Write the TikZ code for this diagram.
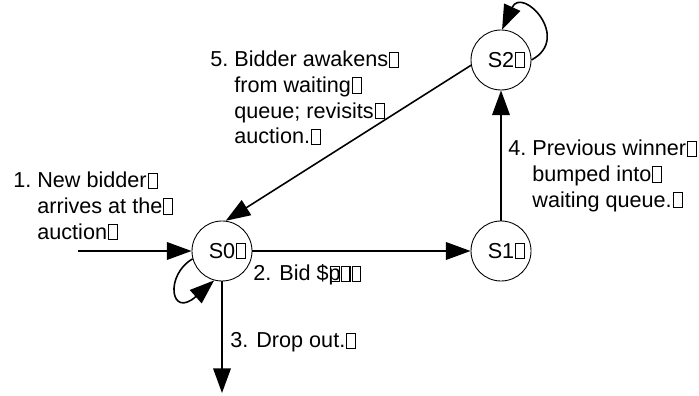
\documentclass[tikz,border=0pt]{standalone}
\usepackage{fontspec}
\setmainfont{Liberation Sans}
\usepackage{tikz}
\usetikzlibrary{arrows.meta}

\newcommand{\nog}{\kern0.6pt{\setlength{\fboxsep}{0pt}\setlength{\fboxrule}{0.6pt}\fbox{\rule{0pt}{0.66em}\hspace{0.36em}}}}

\begin{document}
\begin{tikzpicture}[
  state/.style={draw, circle, line width=0.5pt, minimum size=1.2cm, inner sep=0pt, font=\fontsize{12.3}{14.6}\selectfont},
  lbl/.style={anchor=base west, inner sep=0pt, font=\fontsize{12.3}{14.6}\selectfont},
  arr/.style={-{Triangle[length=14pt,width=10pt]}, line width=0.9pt}]

\useasboundingbox (0,0) rectangle (13.98,7.92);

\node(s0)[state] at (4.44,2.90) {S0\rlap{\nog}};
\node(s1)[state] at (10.02,2.90) {S1\rlap{\nog}};
\node(s2)[state] at (10.02,6.72) {S2\rlap{\nog}};

\coordinate(in) at (1.56,2.90);
\coordinate(out) at (4.44,0.06);

\node(l1)[lbl] at (0.26,4.16) {1.\ \begin{tabular}[t]{@{}l@{}}New bidder\nog\\arrives at the\nog\\auction\nog\end{tabular}};
\node(l2)[lbl] at (5.06,2.30) {2. Bid \$\rlap{p}\nog\nog\nog};
\node(l3)[lbl] at (4.60,0.96) {3. Drop out.\nog};
\node(l4)[lbl] at (10.16,4.80) {4.\ \begin{tabular}[t]{@{}l@{}}Previous winner\nog\\bumped into\nog\\waiting queue.\nog\end{tabular}};
\node(l5)[lbl] at (4.20,6.58) {5.\ \begin{tabular}[t]{@{}l@{}}Bidder awakens\nog\\from waiting\nog\\queue; revisits\nog\\auction.\nog\end{tabular}};

\draw[arr] (in) -- (s0);
\draw[arr] (s0) -- (s1);
\draw[arr] (s1) -- (s2);
\draw[arr] (s2.190) -- (s0.83);
\draw[arr] (s0) -- (out);

\draw[arr] (s0.195) .. controls +(-0.56,-0.32) and +(-0.88,-0.78) .. (s0.255);
\draw[arr] (s2.0) .. controls +(0.82,0.44) and +(0.40,0.88) .. (s2.88);

\end{tikzpicture}
\end{document}
